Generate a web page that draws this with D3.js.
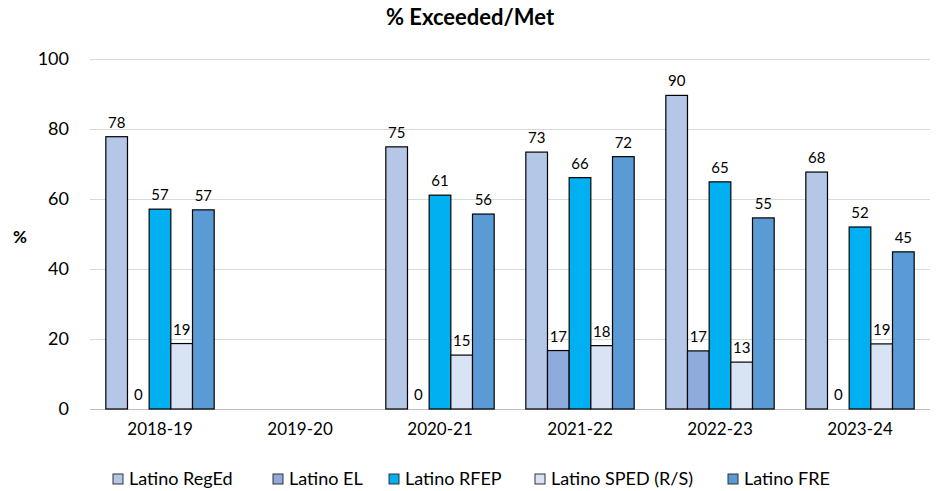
<!DOCTYPE html>
<html>
<head>
<meta charset="utf-8">
<script src="https://cdn.jsdelivr.net/npm/d3@7"></script>
<style>
  body { margin: 0; background: #fff; }
  svg { font-family: Lato, "Open Sans", sans-serif; }
</style>
</head>
<body>
<div id="chart"></div>
<script>
// school years on the x axis
var years = ["2018-19", "2019-20", "2020-21", "2021-22", "2022-23", "2023-24"];
var groups = ["Latino RegEd", "Latino EL", "Latino RFEP", "Latino SPED (R/S)", "Latino FRE"];
var colors = ["#b4c7e7", "#8faadc", "#00b0f0", "#dae3f3", "#5b9bd5"];

// % exceeded/met per group, one entry per year (null = no data)
var regEd = [77.8, null, 74.9, 73.4, 89.6, 67.7];
var el    = [0, null, 0, 16.7, 16.6, 0];
var rfep  = [57.1, null, 61.1, 66.1, 64.9, 52.0];
var sped  = [18.7, null, 15.4, 18.1, 13.4, 18.6];
var fre   = [56.9, null, 55.7, 72.1, 54.6, 44.9];
var series = [regEd, el, rfep, sped, fre];
var yTicks = [0, 20, 40, 60, 80, 100];

var width = 945, height = 491;
var margin = {top: 59, right: 15, bottom: 82, left: 90};

var svg = d3.select("#chart").append("svg")
	.attr("width", width)
	.attr("height", height);

var x0 = d3.scaleBand()
	.domain(years)
	.range([margin.left, width - margin.right])
	.paddingInner(0)
	.paddingOuter(0);

var x1 = d3.scaleBand()
	.domain(groups)
	.range([0, x0.bandwidth()])
	.paddingInner(0)
	.paddingOuter(0.73);

var y = d3.scaleLinear()
	.domain([0, 100])
	.range([height - margin.bottom, margin.top]);

// gridlines
svg.append("g")
	.selectAll("line")
	.data(yTicks)
	.enter().append("line")
		.attr("x1", margin.left)
		.attr("x2", width - margin.right)
		.attr("y1", function(d) { return y(d) + 0.5; })
		.attr("y2", function(d) { return y(d) + 0.5; })
		.attr("stroke", function(d) { return d == 0 ? "#bfbfbf" : "#d9d9d9"; })
		.attr("stroke-width", 1);

// y tick labels
var yAxis = svg.append("g")
	.attr("transform", "translate(" + margin.left + ",0)")
	.call(d3.axisLeft(y).tickValues(yTicks).tickSize(0).tickPadding(21));
yAxis.select(".domain").remove();
yAxis.selectAll("text")
	.attr("font-family", "Lato, sans-serif")
	.attr("font-size", 18)
	.attr("fill", "#000");

// x category labels
var xAxis = svg.append("g")
	.attr("transform", "translate(0," + (height - margin.bottom) + ")")
	.call(d3.axisBottom(x0).tickSize(0).tickPadding(14));
xAxis.select(".domain").remove();
xAxis.selectAll("text")
	.attr("font-family", "Lato, sans-serif")
	.attr("font-size", 17)
	.attr("fill", "#000");

// bars
var rows = [];
years.forEach(function(yr, i) {
	groups.forEach(function(g, j) {
		if (series[j][i] != null) {
			rows.push({year: yr, group: g, value: series[j][i], color: colors[j]});
		}
	});
});

var bar = svg.append("g").selectAll(".datagroup")
	.data(rows)
	.enter().append("g")
		.attr("class", "datagroup")
		.attr("transform", function(d) { return "translate(" + x0(d.year) + ",0)"; });

bar.filter(function(d) { return d.value > 0; })
	.append("rect")
		.attr("x", function(d) { return x1(d.group); })
		.attr("width", x1.bandwidth())
		.attr("y", function(d) { return y(d.value); })
		.attr("height", function(d) { return y(0) - y(d.value); })
		.attr("fill", function(d) { return d.color; })
		.attr("stroke", "#000")
		.attr("stroke-width", 1.2);

bar.append("text")
	.attr("x", function(d) { return x1(d.group) + x1.bandwidth() / 2; })
	.attr("y", function(d) { return y(d.value) - 9; })
	.attr("text-anchor", "middle")
	.attr("font-size", 15)
	.attr("fill", "#000")
	.text(function(d) { return d3.format(".0f")(d.value); });

// title and axis label
svg.append("text")
	.attr("x", 470)
	.attr("y", 25)
	.attr("text-anchor", "middle")
	.attr("font-size", 22)
	.attr("font-weight", "bold")
	.text("% Exceeded/Met");

svg.append("text")
	.attr("x", 20)
	.attr("y", 243)
	.attr("text-anchor", "middle")
	.attr("font-size", 17)
	.attr("font-weight", "bold")
	.text("%");

// legend
var legendX = [113, 273, 389, 535, 728];
var legend = svg.append("g").selectAll("g")
	.data(groups)
	.enter().append("g")
		.attr("transform", function(d, i) { return "translate(" + legendX[i] + ",474)"; });

legend.append("rect")
	.attr("width", 10)
	.attr("height", 10)
	.attr("fill", function(d, i) { return colors[i]; })
	.attr("stroke", "#333")
	.attr("stroke-width", 1);

legend.append("text")
	.attr("x", 16)
	.attr("y", 11)
	.attr("font-size", 18)
	.attr("fill", "#000")
	.text(function(d) { return d; });
</script>
</body>
</html>
